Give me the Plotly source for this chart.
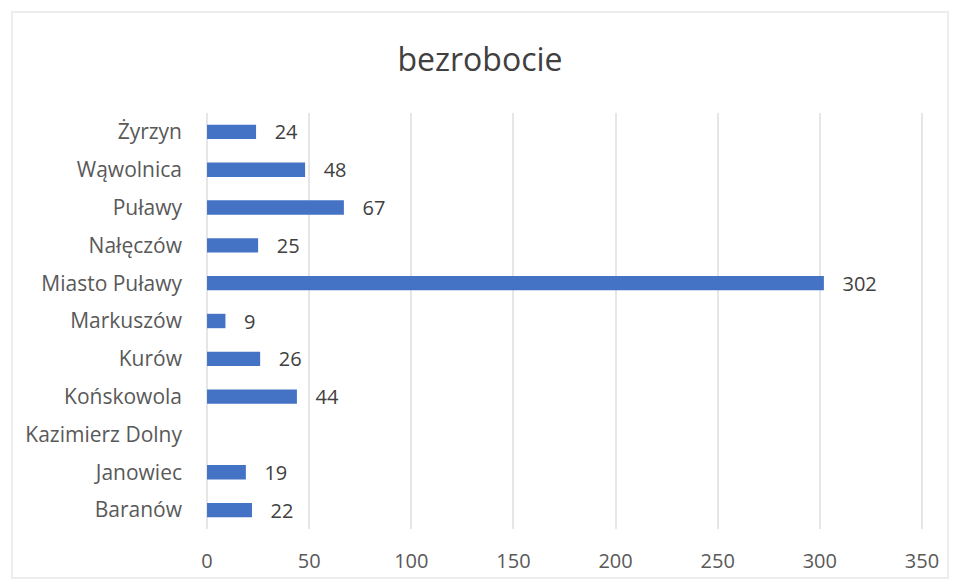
import plotly.graph_objects as go

categories = ["Baranów", "Janowiec", "Kazimierz Dolny", "Końskowola", "Kurów",
              "Markuszów", "Miasto Puławy", "Nałęczów", "Puławy", "Wąwolnica", "Żyrzyn"]
values = [22, 19, None, 44, 26, 9, 302, 25, 67, 48, 24]
x_ticks = [0, 50, 100, 150, 200, 250, 300, 350]

FONT = "Open Sans"

fig = go.Figure(go.Bar(
    y=categories,
    x=values,
    orientation="h",
    width=0.38,
    marker=dict(color="#4472C4", line=dict(width=0)),
    text=[("" if v is None else str(v)) for v in values],
    textposition="outside",
    texttemplate="   %{text}",
    constraintext="none",
    textfont=dict(family=FONT, size=20, color="#404040"),
    cliponaxis=False,
))

L, T, R, B = 205, 113, 35, 55
PW, PH = 960 - L - R, 584 - T - B

fig.update_layout(
    width=960, height=584,
    paper_bgcolor="white", plot_bgcolor="white",
    margin=dict(l=L, r=R, t=T, b=B, autoexpand=False),
    title=dict(text="bezrobocie", x=0.5, xanchor="center", y=1 - 60 / 584, yanchor="middle",
               font=dict(family=FONT, size=32, color="#404040")),
    showlegend=False,
)
fig.update_xaxes(range=[-1, 351.5], tickvals=x_ticks, showgrid=True, gridcolor="#E6E6E6",
                 gridwidth=1.5, zeroline=False, showline=False, automargin=False,
                 tickfont=dict(family=FONT, size=20, color="#595959"),
                 ticklabelstandoff=18)
fig.update_yaxes(categoryorder="array", categoryarray=categories, showgrid=False,
                 zeroline=False, showline=False, automargin=False,
                 tickfont=dict(family=FONT, size=21, color="#595959"),
                 ticklabelstandoff=22)
fig.add_shape(type="rect", xref="paper", yref="paper",
              x0=(12 - L) / PW, x1=(948 - L) / PW,
              y0=-(578 - (T + PH)) / PH, y1=((T + PH) - 12) / PH,
              line=dict(color="#EDEDED", width=2), layer="below")

fig.write_html("out.html", config={"displayModeBar": False},
               post_script="document.body.style.margin='0';")
